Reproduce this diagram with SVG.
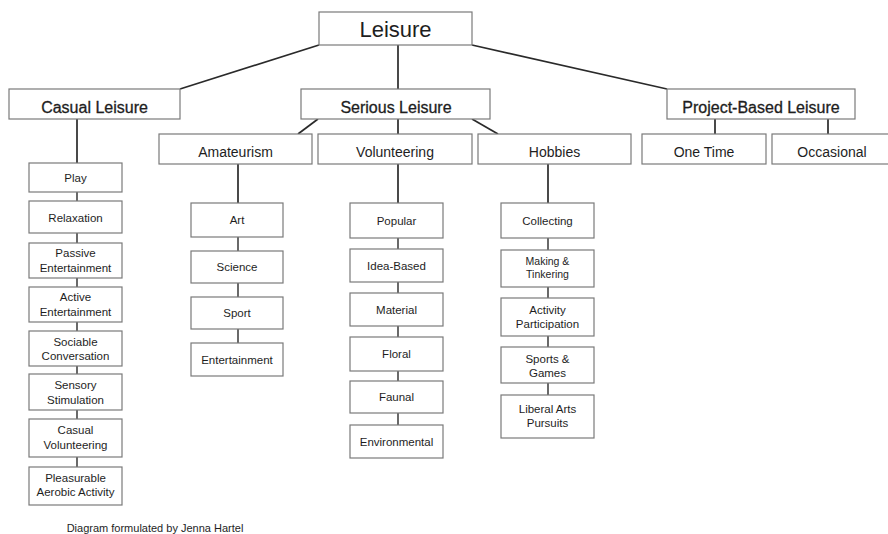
<svg xmlns="http://www.w3.org/2000/svg" width="888" height="534" viewBox="0 0 888 534">
<style>
  rect { fill: #ffffff; stroke: #7a7a7a; stroke-width: 1.2; }
  text { font-family: "Liberation Sans", Arial, sans-serif; fill: #1e1e1e; text-anchor: middle; }
  .t0 { font-size: 22px; }
  .t1 { font-size: 16px; stroke: #1e1e1e; stroke-width: 0.3; }
  .t2 { font-size: 14px; }
  .t3 { font-size: 11.5px; }
  .t3s { font-size: 10.5px; }
  .cap { font-size: 11px; }
  #connectors line { stroke: #2a2a2a; stroke-width: 1.7; }
  #connectors .leaf { stroke-width: 1.4; }
</style>
<rect x="0" y="0" width="888" height="534" style="fill:#ffffff;stroke:none"/>
<g id="connectors">
  <line x1="319" y1="45" x2="180" y2="89"/>
  <line x1="398" y1="45" x2="398" y2="89"/>
  <line x1="472" y1="45" x2="667" y2="89"/>
  <line x1="318" y1="119" x2="298" y2="134"/>
  <line x1="398" y1="119" x2="398" y2="134"/>
  <line x1="472" y1="119" x2="498" y2="134"/>
  <line x1="715" y1="119" x2="715" y2="134"/>
  <line x1="828" y1="119" x2="828" y2="134"/>
  <line x1="77" y1="119" x2="77" y2="163"/>
  <line x1="238" y1="164" x2="238" y2="203"/>
  <line x1="398" y1="164" x2="398" y2="203"/>
  <line x1="548" y1="164" x2="548" y2="203"/>
  <line class="leaf" x1="77" y1="192" x2="77" y2="201"/>
  <line class="leaf" x1="77" y1="233" x2="77" y2="243"/>
  <line class="leaf" x1="77" y1="278" x2="77" y2="287"/>
  <line class="leaf" x1="77" y1="322" x2="77" y2="331"/>
  <line class="leaf" x1="77" y1="366" x2="77" y2="374"/>
  <line class="leaf" x1="77" y1="410" x2="77" y2="419"/>
  <line class="leaf" x1="77" y1="457" x2="77" y2="467"/>
  <line class="leaf" x1="238" y1="237" x2="238" y2="251"/>
  <line class="leaf" x1="238" y1="283" x2="238" y2="297"/>
  <line class="leaf" x1="238" y1="329" x2="238" y2="343"/>
  <line class="leaf" x1="398" y1="238" x2="398" y2="249"/>
  <line class="leaf" x1="398" y1="282" x2="398" y2="293"/>
  <line class="leaf" x1="398" y1="326" x2="398" y2="337"/>
  <line class="leaf" x1="398" y1="371" x2="398" y2="381"/>
  <line class="leaf" x1="398" y1="413" x2="398" y2="425"/>
  <line class="leaf" x1="548" y1="238" x2="548" y2="250"/>
  <line class="leaf" x1="548" y1="287" x2="548" y2="298"/>
  <line class="leaf" x1="548" y1="336" x2="548" y2="347"/>
  <line class="leaf" x1="548" y1="383" x2="548" y2="395"/>
</g>

<g id="leisure"><rect x="319" y="12" width="153" height="33"/><text class="t0" x="395.5" y="36.5">Leisure</text></g>

<g id="casual-leisure"><rect x="9" y="89" width="171" height="30"/><text class="t1" x="94.5" y="112.5">Casual Leisure</text></g>
<g id="serious-leisure"><rect x="301" y="89" width="189" height="30"/><text class="t1" x="396" y="112.5">Serious Leisure</text></g>
<g id="project-based-leisure"><rect x="667" y="89" width="188" height="30"/><text class="t1" x="761" y="112.5">Project-Based Leisure</text></g>

<g id="amateurism"><rect x="159" y="134" width="153" height="30"/><text class="t2" x="235.5" y="156.5">Amateurism</text></g>
<g id="volunteering"><rect x="318" y="134" width="154" height="30"/><text class="t2" x="395" y="156.5">Volunteering</text></g>
<g id="hobbies"><rect x="478" y="134" width="153" height="30"/><text class="t2" x="554.5" y="156.5">Hobbies</text></g>
<g id="one-time"><rect x="642" y="134" width="124" height="30"/><text class="t2" x="704" y="156.5">One Time</text></g>
<g id="occasional"><rect x="772" y="134" width="120" height="30"/><text class="t2" x="832" y="156.5">Occasional</text></g>

<g id="play"><rect x="29" y="163" width="93" height="29"/><text class="t3" x="75.5" y="181.5">Play</text></g>
<g id="relaxation"><rect x="29" y="201" width="93" height="32"/><text class="t3" x="75.5" y="221.5">Relaxation</text></g>
<g id="passive-entertainment"><rect x="29" y="243" width="93" height="35"/><text class="t3" x="75.5" y="257">Passive</text><text class="t3" x="75.5" y="272">Entertainment</text></g>
<g id="active-entertainment"><rect x="29" y="287" width="93" height="35"/><text class="t3" x="75.5" y="301">Active</text><text class="t3" x="75.5" y="316">Entertainment</text></g>
<g id="sociable-conversation"><rect x="29" y="331" width="93" height="35"/><text class="t3" x="75.5" y="345.5">Sociable</text><text class="t3" x="75.5" y="360">Conversation</text></g>
<g id="sensory-stimulation"><rect x="29" y="374" width="93" height="36"/><text class="t3" x="75.5" y="389">Sensory</text><text class="t3" x="75.5" y="404">Stimulation</text></g>
<g id="casual-volunteering"><rect x="29" y="419" width="93" height="38"/><text class="t3" x="75.5" y="434">Casual</text><text class="t3" x="75.5" y="448.5">Volunteering</text></g>
<g id="pleasurable-aerobic-activity"><rect x="29" y="467" width="93" height="38"/><text class="t3" x="75.5" y="481.5">Pleasurable</text><text class="t3" x="75.5" y="496">Aerobic Activity</text></g>

<g id="art"><rect x="191" y="203" width="92" height="34"/><text class="t3" x="237" y="224">Art</text></g>
<g id="science"><rect x="191" y="251" width="92" height="32"/><text class="t3" x="237" y="271">Science</text></g>
<g id="sport"><rect x="191" y="297" width="92" height="32"/><text class="t3" x="237" y="317">Sport</text></g>
<g id="entertainment"><rect x="191" y="343" width="92" height="33"/><text class="t3" x="237" y="363.5">Entertainment</text></g>

<g id="popular"><rect x="350" y="203" width="93" height="35"/><text class="t3" x="396.5" y="224.5">Popular</text></g>
<g id="idea-based"><rect x="350" y="249" width="93" height="33"/><text class="t3" x="396.5" y="269.5">Idea-Based</text></g>
<g id="material"><rect x="350" y="293" width="93" height="33"/><text class="t3" x="396.5" y="313.5">Material</text></g>
<g id="floral"><rect x="350" y="337" width="93" height="34"/><text class="t3" x="396.5" y="358">Floral</text></g>
<g id="faunal"><rect x="350" y="381" width="93" height="32"/><text class="t3" x="396.5" y="401">Faunal</text></g>
<g id="environmental"><rect x="350" y="425" width="93" height="33"/><text class="t3" x="396.5" y="445.5">Environmental</text></g>

<g id="collecting"><rect x="501" y="203" width="93" height="35"/><text class="t3" x="547.5" y="224.5">Collecting</text></g>
<g id="making-tinkering"><rect x="501" y="250" width="93" height="37"/><text class="t3s" x="547.5" y="265">Making &amp;</text><text class="t3s" x="547.5" y="278">Tinkering</text></g>
<g id="activity-participation"><rect x="501" y="298" width="93" height="38"/><text class="t3" x="547.5" y="313.5">Activity</text><text class="t3" x="547.5" y="327.5">Participation</text></g>
<g id="sports-games"><rect x="501" y="347" width="93" height="36"/><text class="t3" x="547.5" y="362.5">Sports &amp;</text><text class="t3" x="547.5" y="376.5">Games</text></g>
<g id="liberal-arts-pursuits"><rect x="501" y="395" width="93" height="43"/><text class="t3" x="547.5" y="412.5">Liberal Arts</text><text class="t3" x="547.5" y="427">Pursuits</text></g>

<text class="cap" x="155" y="532">Diagram formulated by Jenna Hartel</text>
</svg>
